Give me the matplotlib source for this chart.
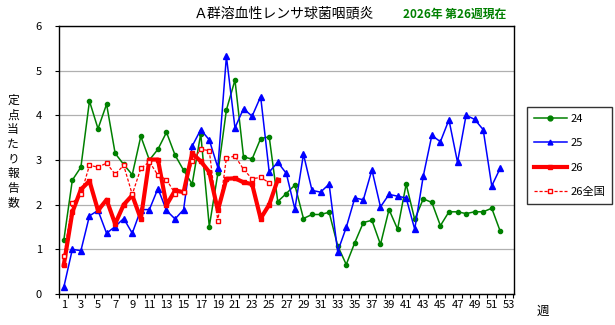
import matplotlib
matplotlib.use("Agg")
import matplotlib.pyplot as plt
from matplotlib.ticker import MultipleLocator

plt.rcParams['font.family'] = ['Noto Sans CJK JP', 'DejaVu Sans']

# 定点当たり報告数 (weekly)
y2024 = [1.20, 2.55, 2.84, 4.32, 3.70, 4.25, 3.15, 2.90, 2.67, 3.53,
         3.00, 3.24, 3.62, 3.11, 2.77, 2.46, 3.59, 1.51, 2.70, 4.12,
         4.79, 3.07, 3.02, 3.48, 3.52, 2.07, 2.25, 2.44, 1.69, 1.78,
         1.78, 1.83, 1.08, 0.66, 1.15, 1.60, 1.65, 1.11, 1.89, 1.45,
         2.46, 1.67, 2.13, 2.05, 1.53, 1.84, 1.84, 1.80, 1.84, 1.84,
         1.92, 1.40]
y2025 = [0.15, 1.00, 0.97, 1.75, 1.87, 1.36, 1.51, 1.69, 1.36, 1.89,
         1.89, 2.36, 1.87, 1.68, 1.89, 3.31, 3.68, 3.45, 2.83, 5.32,
         3.72, 4.15, 3.98, 4.42, 2.73, 2.95, 2.70, 1.90, 3.13, 2.32,
         2.28, 2.46, 0.95, 1.49, 2.15, 2.11, 2.78, 1.95, 2.23, 2.19,
         2.15, 1.45, 2.64, 3.55, 3.41, 3.90, 2.95, 4.00, 3.91, 3.68,
         2.42, 2.82]
y2026 = [0.65, 1.83, 2.34, 2.53, 1.87, 2.11, 1.57, 2.00, 2.21, 1.68,
         3.01, 3.01, 1.99, 2.32, 2.28, 3.15, 2.97, 2.73, 1.87, 2.58,
         2.59, 2.50, 2.46, 1.69, 2.00, 2.56]
y2026_nat = [0.84, 2.04, 2.23, 2.88, 2.84, 2.93, 2.68, 2.88, 2.23, 2.81,
             2.96, 2.66, 2.56, 2.25, 2.29, 2.97, 3.24, 3.21, 1.63, 3.04,
             3.09, 2.79, 2.58, 2.61, 2.49]

weeks = list(range(1, 54))
tick_weeks = list(range(1, 54, 2))
ylabel = "定点当たり報告数"

fig = plt.figure(figsize=(6.15, 3.25), dpi=100)
ax = fig.add_axes([59.5 / 615, 31 / 325, (514 - 59.5) / 615, 268 / 325])

ax.plot(weeks[:len(y2024)], y2024, color='#008000', lw=1.1, marker='o',
        ms=3.0, label='24')
ax.plot(weeks[:len(y2025)], y2025, color='#0000FF', lw=1.1, marker='^',
        ms=4.5, label='25')
ax.plot(weeks[:len(y2026)], y2026, color='#FF0000', lw=3.0, marker='s',
        ms=2.5, label='26')
ax.plot(weeks[:len(y2026_nat)], y2026_nat, color='#FF0000', lw=0.9,
        ls=(0, (2.5, 1.5)), marker='s', ms=3.2, mfc='white', mec='#FF0000',
        mew=1, label='26全国')

ax.set_xlim(0.55, 53.6)
ax.set_ylim(0, 6)
ax.yaxis.set_major_locator(MultipleLocator(1))
ax.set_xticks(tick_weeks)
ax.set_xticks([w + 0.5 for w in range(0, 54)], minor=True)
ax.tick_params(axis='x', which='major', length=0, labelsize=8, pad=4)
ax.tick_params(axis='x', which='minor', length=3, width=0.8, direction='out')
ax.tick_params(axis='y', length=3, width=0.8, labelsize=8, pad=12)
for lab in ax.get_yticklabels():
    lab.set_horizontalalignment('center')
ax.grid(axis='y', color='#b0b0b0', lw=0.9)
ax.set_axisbelow(True)
for s in ax.spines.values():
    s.set_color('black')
    s.set_linewidth(1)

# vertical axis title, one character per line
for i, ch in enumerate(ylabel):
    fig.text(13 / 615, 1 - (100 + i * 14.7) / 325, ch,
             ha='center', va='center', fontsize=8.5)
fig.text(543 / 615, 1 - 311 / 325, "週", ha='center', va='center', fontsize=9)
fig.text(284 / 615, 1 - 14 / 325, "Ａ群溶血性レンサ球菌咽頭炎",
         ha='center', va='center', fontsize=10)
fig.text(455 / 615, 1 - 14 / 325, "2026年 第26週現在", ha='center',
         va='center', fontsize=8.5, color='#008000', fontweight='bold')

leg = fig.legend(loc='upper left', bbox_to_anchor=(527 / 615, 1 - 107 / 325),
                 frameon=True, fancybox=False, edgecolor='black',
                 fontsize=8, handlelength=3.0, labelspacing=1.3,
                 borderpad=0.6, handletextpad=0.35, borderaxespad=0)
leg.get_frame().set_linewidth(1)
for h in leg.legend_handles:
    h.set_markersize(3.5)

fig.savefig("out.png", dpi=100)
